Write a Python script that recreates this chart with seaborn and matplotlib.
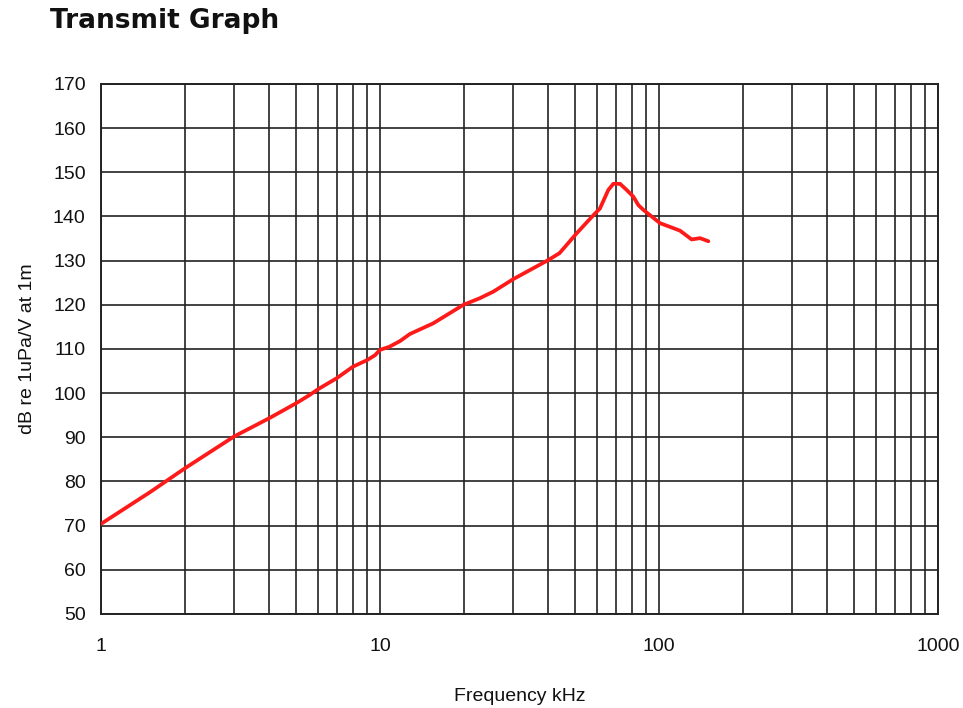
import matplotlib
matplotlib.use("Agg")
import matplotlib.pyplot as plt
import seaborn as sns
import pandas as pd
import numpy as np
from matplotlib.ticker import FixedLocator, NullFormatter, FixedFormatter

freq_khz = [1, 1.5, 2, 3, 4, 5, 5.6, 6, 7, 8, 9, 9.6, 10, 10.8, 11.8, 12.8,
            15.5, 19.9, 22.8, 25.5, 30, 40, 44, 50.7, 58.2, 61.4, 65.8, 68.6,
            72.5, 76.6, 80.9, 84.3, 87.9, 100.8, 118.9, 131, 140.3, 150.3]
level_db = [70.4, 77.6, 83, 90.2, 94.3, 97.7, 99.6, 100.9, 103.4, 106, 107.5,
            108.6, 109.8, 110.5, 111.8, 113.4, 115.8, 120, 121.5, 123, 125.8,
            130.1, 131.7, 136.2, 140.3, 141.8, 146, 147.4, 147.4, 146, 144.5,
            142.6, 141.5, 138.5, 136.8, 134.8, 135.1, 134.4]
x_major = [1, 10, 100, 1000]
x_labels = ["1", "10", "100", "1000"]
y_ticks = [50, 60, 70, 80, 90, 100, 110, 120, 130, 140, 150, 160, 170]

sns.set_theme(style="white")
plt.rcParams['font.family'] = ['Liberation Sans', 'DejaVu Sans']

df = pd.DataFrame({"freq": freq_khz, "db": level_db})

fig = plt.figure(figsize=(9.63, 7.08), dpi=100)
ax = fig.add_axes([101/963, 1-614/708, (938-101)/963, (614-84)/708])

ax.set_xscale("log")
ax.set_xlim(1, 1000)
ax.set_ylim(50, 170)

minor = [m * d for d in [1, 10, 100] for m in range(2, 10)]
gcol = "#222222"
for v in minor + x_major:
    ax.axvline(v, color=gcol, lw=1.2, zorder=1)
for v in y_ticks:
    ax.axhline(v, color=gcol, lw=1.2, zorder=1)

sns.lineplot(data=df, x="freq", y="db", ax=ax, color="#ff1a1a", lw=2.7,
             zorder=3, sort=False)

ax.xaxis.set_major_locator(FixedLocator(x_major))
ax.xaxis.set_major_formatter(FixedFormatter(x_labels))
ax.xaxis.set_minor_locator(FixedLocator(minor))
ax.xaxis.set_minor_formatter(NullFormatter())
ax.set_yticks(y_ticks)
ax.set_yticklabels([str(v) for v in y_ticks])
ax.tick_params(axis="both", which="both", length=0, labelsize=14, colors="#111111")
ax.tick_params(axis="x", pad=17)
ax.tick_params(axis="y", pad=11)

for s in ax.spines.values():
    s.set_color(gcol)
    s.set_linewidth(1.4)

ax.set_xlabel("Frequency kHz", fontsize=14, labelpad=24, color="#111111")
ax.set_ylabel("dB re 1uPa/V at 1m", fontsize=14, labelpad=12, color="#111111")

fig.text(50/963, 1-21/708, "Transmit Graph", fontsize=19, fontweight="bold",
         family=["DejaVu Sans"], ha="left", va="center", color="#111111")

fig.savefig("out.png", dpi=100)
